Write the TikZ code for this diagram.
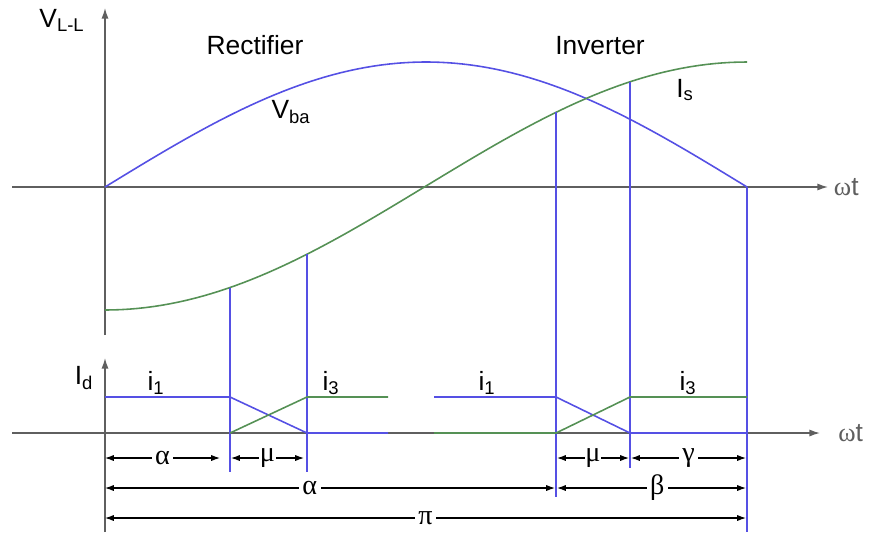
\documentclass[tikz,border=0pt]{standalone}
\usepackage{fontspec}
\setmainfont{Liberation Sans}
\newfontfamily\grk{Liberation Serif}
\usepackage{tikz}
\usetikzlibrary{arrows.meta}
\definecolor{vblue}{RGB}{85,80,228}
\definecolor{igreen}{RGB}{85,145,85}
\definecolor{axisgray}{RGB}{95,95,95}
\tikzset{
  axis/.style={axisgray,line width=0.8pt,-{Latex[length=6pt,width=4pt]}},
  dim/.style={black,line width=0.6pt,{Latex[length=5pt,width=3.5pt]}-{Latex[length=5pt,width=3.5pt]}},
  dimlabel/.style={fill=white,inner sep=2pt,font=\fontsize{16}{18}\selectfont\grk},
  lbl/.style={font=\fontsize{15}{18}\selectfont,inner sep=0pt},
  wave/.style={line width=0.9pt},
}
\begin{document}
\begin{tikzpicture}[x=0.02cm,y=-0.02cm]
\useasboundingbox (0,0) rectangle (874,535);
% axes
\draw[axis] (12,187)--(828,187) node[lbl,right=3pt] (wt1) {{\grk ω}t};
\draw[axis] (105,335)--(105,8);
\node[lbl] (vll) at (62,20) {V\textsubscript{L-L}};
\draw[axis] (12,433)--(820,433) node[lbl,right=10pt] (wt2) {{\grk ω}t};
\draw[axis] (105,532)--(105,358);
\node[lbl] (id) at (84,378) {I\textsubscript{d}};
% waves
\draw[vblue,wave] plot[domain=105:747,samples=80] (\x,{187-125*sin((\x-105)/642*180)});
\draw[igreen,wave] plot[domain=105:747,samples=80] (\x,{186+124*cos((\x-105)/642*180)});
\node[lbl] (rect) at (255,45) {Rectifier};
\node[lbl] (inv) at (600,46) {Inverter};
\node[lbl] (vba) at (291,112) {V\textsubscript{ba}};
\node[lbl] (is) at (685,90) {I\textsubscript{s}};
% commutation instants
\coordinate (a1) at (230,288); \coordinate (m1) at (307,254);
\coordinate (a2) at (556,112); \coordinate (m2) at (630,82);
\coordinate (pi) at (747,187);
\draw[vblue,wave] (a1)--(230,472);
\draw[vblue,wave] (m1)--(307,472);
\draw[vblue,wave] (a2)--(556,497);
\draw[vblue,wave] (m2)--(630,468);
\draw[vblue,wave] (pi)--(747,532);
% dc current
\draw[vblue,wave] (105,397)--(230,397)--(307,433)--(388,433);
\draw[igreen,wave] (230,433)--(307,397)--(388,397);
\draw[vblue,wave] (434,397)--(556,397)--(630,433)--(747,433);
\draw[igreen,wave] (434,433)--(556,433)--(630,397)--(747,397);
\node[lbl] (i1a) at (156,383) {i\textsubscript{1}};
\node[lbl] (i3a) at (331,383) {i\textsubscript{3}};
\node[lbl] (i1b) at (487,383) {i\textsubscript{1}};
\node[lbl] (i3b) at (688,383) {i\textsubscript{3}};
% angles
\draw[dim] (105,458)--(220,458) node[dimlabel,midway] {α};
\draw[dim] (231,458)--(304,458) node[dimlabel,midway,inner sep=0.5pt] {μ};
\draw[dim] (557,458)--(629,458) node[dimlabel,midway,inner sep=0.5pt] {μ};
\draw[dim] (631,458)--(746,458) node[dimlabel,midway] {γ};
\draw[dim] (105,488)--(555,488) node[dimlabel,pos=0.455] {α};
\draw[dim] (557,488)--(746,488) node[dimlabel,pos=0.53] {β};
\draw[dim] (105,518)--(746,518) node[dimlabel,pos=0.5] {π};
\end{tikzpicture}
\end{document}
